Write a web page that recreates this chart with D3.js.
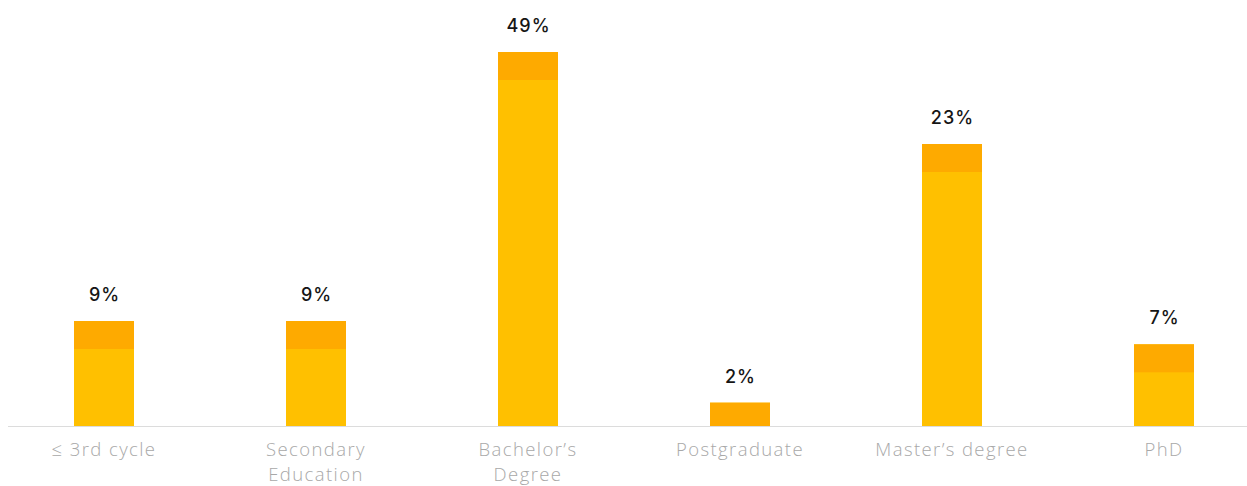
<!DOCTYPE html>
<html>
<head>
<meta charset="utf-8">
<script src="https://cdn.jsdelivr.net/npm/d3@7"></script>
<style>
  html, body { margin: 0; padding: 0; background: #fff; }
  svg { display: block; }
</style>
</head>
<body>
<svg id="chart" width="1247" height="486"></svg>
<script>
const categories = ["≤ 3rd cycle", "Secondary Education", "Bachelor’s Degree", "Postgraduate", "Master’s degree", "PhD"];
const values = [9, 9, 49, 2, 23, 7];
const valueLabels = ["9%", "9%", "49%", "2%", "23%", "7%"];
// the original's value axis is not linear (tallest bar compressed): breakpoints of its scale
const yDomainBreaks = [0, 9, 23, 49];

const W = 1247, H = 486;
const baseY = 426;
const svg = d3.select("#chart");

const x = d3.scaleBand()
  .domain(categories)
  .range([-2, 1270])
  .paddingInner(0.717)
  .paddingOuter(0.3585);

const y = d3.scaleLinear()
  .domain(yDomainBreaks)
  .range([baseY, 321, 144, 52]);

const capH = 28;

// axis line
svg.append("line")
  .attr("x1", 8).attr("x2", W)
  .attr("y1", baseY + 0.5).attr("y2", baseY + 0.5)
  .attr("stroke", "#dcdcdc").attr("stroke-width", 1);

const g = svg.append("g");
const bars = g.selectAll("g.bar").data(categories.map((c, i) => ({c, v: values[i], l: valueLabels[i]})))
  .enter().append("g").attr("class", "bar");

bars.append("rect")
  .attr("x", d => x(d.c))
  .attr("width", x.bandwidth())
  .attr("y", d => y(d.v))
  .attr("height", d => baseY - y(d.v))
  .attr("fill", "#FFC000");

bars.append("rect")
  .attr("x", d => x(d.c))
  .attr("width", x.bandwidth())
  .attr("y", d => y(d.v))
  .attr("height", d => Math.min(capH, baseY - y(d.v)))
  .attr("fill", "#FEAA00");

bars.append("text")
  .attr("x", d => x(d.c) + x.bandwidth() / 2 + 0.5)
  .attr("y", d => y(d.v) - 20)
  .attr("text-anchor", "middle")
  .attr("font-family", "Inter, 'Open Sans', sans-serif")
  .attr("font-weight", 500)
  .attr("font-size", 18)
  .attr("letter-spacing", 1)
  .attr("fill", "#151515")
  .text(d => d.l);

// category labels with wrapping
const maxW = 160;
const xAxisG = svg.append("g");
categories.forEach(c => {
  const cx = x(c) + x.bandwidth() / 2;
  const t = xAxisG.append("text")
    .attr("x", cx)
    .attr("y", 456)
    .attr("text-anchor", "middle")
    .attr("font-family", "'Open Sans', sans-serif")
    .attr("font-weight", 300)
    .attr("font-size", 18.5)
    .attr("letter-spacing", 1.4)
    .attr("fill", "#a8a8a8");
  const words = c.split(" ");
  let line = [];
  let tspan = t.append("tspan").attr("x", cx).attr("dy", 0);
  words.forEach(w => {
    line.push(w);
    tspan.text(line.join(" "));
    if (tspan.node().getComputedTextLength() > maxW && line.length > 1) {
      line.pop();
      tspan.text(line.join(" "));
      line = [w];
      tspan = t.append("tspan").attr("x", cx).attr("dy", 24.5).text(w);
    }
  });
});
</script>
</body>
</html>
